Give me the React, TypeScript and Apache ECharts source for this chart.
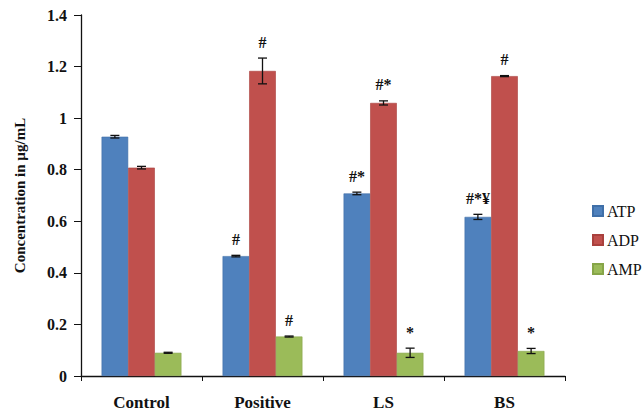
import React, { useEffect, useRef } from "react";
import * as echarts from "echarts";

const categories = ["Control", "Positive", "LS", "BS"];
const seriesNames = ["ATP", "ADP", "AMP"];
const atp = [0.928, 0.465, 0.708, 0.617];
const adp = [0.808, 1.183, 1.059, 1.163];
const amp = [0.09, 0.153, 0.09, 0.097];
const atpErr = [0.005, 0.003, 0.005, 0.01];
const adpErr = [0.005, 0.05, 0.008, 0.002];
const ampErr = [0.002, 0.002, 0.018, 0.01];
const atpMarks = ["", "#", "#*", "#*¥"];
const adpMarks = ["", "#", "#*", "#"];
const ampMarks = ["", "#", "*", "*"];
const yTicks = [0, 0.2, 0.4, 0.6, 0.8, 1, 1.2, 1.4];

const colors = ["#4F81BD", "#C0504D", "#9BBB59"];
const borders = ["#3f6fa8", "#a9403d", "#86a548"];
const CATEGORY_GAP = 0.34;
const FONT = "'Liberation Serif', 'Times New Roman', serif";

const values = [atp, adp, amp];
const errors = [atpErr, adpErr, ampErr];
const marks = [atpMarks, adpMarks, ampMarks];

export default function App() {
  const ref = useRef<HTMLDivElement>(null);

  useEffect(() => {
    if (!ref.current) return;
    const chart = echarts.init(ref.current, null, { renderer: "svg" });

    const barSeries = seriesNames.map((name, s) => ({
      name,
      type: "bar",
      data: values[s],
      barGap: "0%",
      barCategoryGap: CATEGORY_GAP * 100 + "%",
      itemStyle: { color: colors[s], borderColor: borders[s], borderWidth: 0.6 },
    }));

    const errSeries = seriesNames.map((name, s) => ({
      type: "custom",
      name: name + " error",
      z: 5,
      silent: true,
      data: categories.map((_, i) => [i, values[s][i] - errors[s][i], values[s][i] + errors[s][i]]),
      encode: { x: 0, y: [1, 2] },
      renderItem: (params: any, api: any) => {
        const idx = api.value(0);
        const lo = api.coord([idx, api.value(1)]);
        const hi = api.coord([idx, api.value(2)]);
        const catW = api.size([1, 0])[0];
        const barW = (catW * (1 - CATEGORY_GAP)) / 3;
        const x = lo[0] + (s - 1) * barW;
        const cap = 4.5;
        const lineStyle = { stroke: "#111", lineWidth: 1.3 };
        const mark = marks[s][idx];
        const children: any[] = [
          { type: "line", shape: { x1: x, y1: lo[1], x2: x, y2: hi[1] }, style: lineStyle },
          { type: "line", shape: { x1: x - cap, y1: lo[1], x2: x + cap, y2: lo[1] }, style: lineStyle },
          { type: "line", shape: { x1: x - cap, y1: hi[1], x2: x + cap, y2: hi[1] }, style: lineStyle },
        ];
        if (mark) {
          children.push({
            type: "text",
            style: {
              text: mark,
              x,
              y: hi[1] - 8,
              align: "center",
              verticalAlign: "bottom",
              font: "bold 16px " + FONT,
              fill: "#111",
            },
          });
        }
        return { type: "group", children };
      },
    }));

    chart.setOption({
      animation: false,
      backgroundColor: "#fff",
      grid: { left: 81, right: 79, top: 15, bottom: 37, containLabel: false },
      legend: {
        data: seriesNames,
        orient: "vertical",
        left: 592,
        top: 203,
        padding: 0,
        itemWidth: 10,
        itemHeight: 10,
        itemGap: 13,
        icon: "rect",
        textStyle: { fontFamily: FONT, fontSize: 16, color: "#111", padding: [0, 0, 0, -1] },
      },
      xAxis: {
        type: "category",
        data: categories,
        axisLine: { lineStyle: { color: "#111", width: 1.3 } },
        axisTick: { show: true, inside: false, length: 5, lineStyle: { color: "#111" } },
        axisLabel: { fontFamily: FONT, fontWeight: "bold", fontSize: 17, color: "#111", margin: 18 },
      },
      yAxis: {
        type: "value",
        min: 0,
        max: 1.4,
        interval: 0.2,
        name: "Concentration in µg/mL",
        nameLocation: "middle",
        nameGap: 54,
        nameTextStyle: { fontFamily: FONT, fontWeight: "bold", fontSize: 15, color: "#111" },
        splitLine: { show: false },
        axisLine: { show: true, lineStyle: { color: "#111", width: 1.3 } },
        axisTick: { show: true, length: 7, lineStyle: { color: "#111" } },
        axisLabel: {
          fontFamily: FONT,
          fontWeight: "bold",
          fontSize: 16,
          color: "#111",
          margin: 14,
          formatter: (v: number) => {
            const t = yTicks.find((k) => Math.abs(k - v) < 1e-9);
            return t === undefined ? "" : String(t);
          },
        },
      },
      series: [...barSeries, ...errSeries],
    });

    return () => chart.dispose();
  }, []);

  return (
    <div
      ref={ref}
      style={{ position: "fixed", left: 0, top: 0, width: 644, height: 413, background: "#fff" }}
    />
  );
}
